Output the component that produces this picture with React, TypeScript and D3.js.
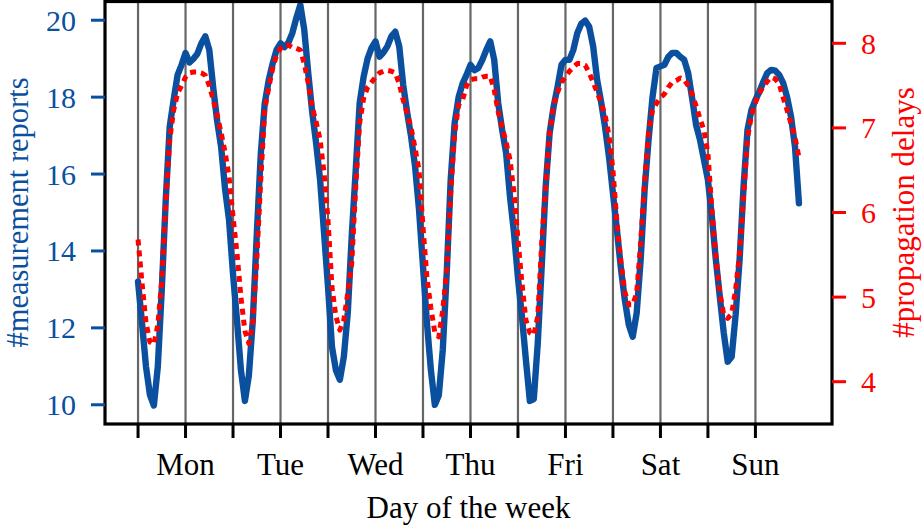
import React from "react";
import * as d3 from "d3";

// hourly values, Mon 00:00 .. Sun 23:00
const reportsMon = [13.2, 12.13, 11.0, 10.26, 9.98, 11.0, 13.0, 15.33, 17.23, 17.93, 18.58, 18.84, 19.15, 18.9, 19.0, 19.13, 19.4, 19.58, 19.23, 18.24, 17.37, 16.7, 15.6, 14.8];
const reportsTue = [13.4, 12.2, 10.9, 10.1, 10.76, 12.2, 14.42, 16.5, 17.83, 18.43, 18.87, 19.23, 19.4, 19.3, 19.42, 19.67, 20.06, 20.4, 19.75, 18.63, 17.62, 16.8, 15.85, 14.47];
const reportsWed = [13.07, 11.51, 10.9, 10.65, 11.25, 12.4, 14.4, 16.1, 17.85, 18.53, 19.0, 19.28, 19.45, 19.05, 19.16, 19.32, 19.58, 19.7, 19.32, 18.32, 17.6, 16.97, 16.2, 15.07];
const reportsThu = [13.6, 12.13, 10.9, 10.0, 10.25, 11.43, 13.43, 15.85, 17.33, 18.0, 18.35, 18.58, 18.84, 18.7, 18.76, 18.97, 19.23, 19.45, 18.97, 17.85, 17.15, 16.55, 15.4, 14.47];
const reportsFri = [13.3, 12.3, 11.17, 10.1, 10.15, 11.6, 13.6, 15.67, 17.06, 17.75, 18.27, 18.84, 18.97, 18.97, 19.23, 19.67, 19.91, 19.99, 19.83, 19.32, 18.45, 17.88, 17.23, 16.45];
const reportsSat = [15.5, 14.55, 13.56, 12.73, 12.08, 11.77, 12.39, 13.77, 15.59, 16.89, 18.0, 18.76, 18.8, 18.84, 19.05, 19.15, 19.15, 19.05, 18.97, 18.63, 17.98, 17.28, 16.89, 16.37];
const reportsSun = [15.85, 14.89, 13.77, 12.81, 11.87, 11.12, 11.25, 12.34, 13.77, 15.67, 17.15, 17.67, 17.93, 18.14, 18.4, 18.63, 18.71, 18.69, 18.58, 18.37, 18.0, 17.49, 16.71, 15.24];

const delaysMon = [5.68, 5.17, 4.7, 4.47, 4.44, 4.67, 5.2, 6.11, 6.86, 7.21, 7.41, 7.5, 7.6, 7.65, 7.66, 7.66, 7.65, 7.62, 7.5, 7.33, 7.15, 6.94, 6.71, 6.42];
const delaysTue = [5.95, 5.52, 5.0, 4.6, 4.45, 4.7, 5.44, 6.38, 7.21, 7.47, 7.7, 7.86, 7.94, 7.98, 7.98, 7.95, 7.94, 7.92, 7.76, 7.53, 7.25, 7.07, 6.86, 6.47];
const delaysWed = [5.91, 5.12, 4.77, 4.61, 4.73, 5.05, 5.4, 6.3, 7.06, 7.35, 7.48, 7.54, 7.6, 7.65, 7.67, 7.68, 7.67, 7.65, 7.52, 7.33, 7.17, 7.0, 6.76, 6.5];
const delaysThu = [5.83, 5.23, 4.87, 4.58, 4.53, 4.85, 5.32, 6.23, 6.94, 7.27, 7.33, 7.5, 7.57, 7.58, 7.58, 7.6, 7.61, 7.61, 7.45, 7.19, 7.01, 6.83, 6.62, 6.23];
const delaysFri = [5.68, 5.17, 4.73, 4.58, 4.55, 4.77, 5.64, 6.3, 6.94, 7.27, 7.42, 7.54, 7.6, 7.67, 7.72, 7.76, 7.76, 7.74, 7.65, 7.54, 7.42, 7.3, 7.15, 6.91];
const delaysSat = [6.5, 5.89, 5.42, 5.06, 4.91, 4.91, 5.05, 5.64, 6.35, 6.94, 7.21, 7.29, 7.36, 7.4, 7.48, 7.54, 7.56, 7.59, 7.57, 7.5, 7.4, 7.26, 7.11, 6.97];
const delaysSun = [6.7, 6.03, 5.48, 5.05, 4.79, 4.75, 4.8, 5.09, 5.52, 6.18, 6.88, 7.15, 7.3, 7.41, 7.49, 7.55, 7.6, 7.58, 7.52, 7.36, 7.21, 7.05, 6.89, 6.65];

const dayLabels = ["Mon", "Tue", "Wed", "Thu", "Fri", "Sat", "Sun"];
const leftTicks = [10, 12, 14, 16, 18, 20];
const rightTicks = [4, 5, 6, 7, 8];

const reports = [reportsMon, reportsTue, reportsWed, reportsThu, reportsFri, reportsSat, reportsSun].flat();
const delays = [delaysMon, delaysTue, delaysWed, delaysThu, delaysFri, delaysSat, delaysSun].flat();

const W = 922;
const H = 527;
const L = 105, R = 832, T = 1, B = 424;
const BLUE = "#0a509e";
const RED = "#ff0000";
const FONT = "'Liberation Serif', 'Times New Roman', serif";

export default function App() {
  const n = reports.length;
  const pad = (n - 1) * 0.05;
  const x = d3.scaleLinear().domain([-pad, n - 1 + pad]).range([L, R]);
  const yL = d3.scaleLinear().domain([9.5, 20.5]).range([B, T]);
  const yR = d3.scaleLinear().domain([3.5, 8.5]).range([B, T]);
  const tickHours = d3.range(0, n - 1, 12);
  const blueLine = d3.line<number>().x((_, i) => x(i)).y((d) => yL(d))(reports) || "";
  const redLine = d3.line<number>().x((_, i) => x(i)).y((d) => yR(d))(delays) || "";

  return (
    <svg width={W} height={H} style={{ position: "absolute", left: 0, top: 0, background: "#fff" }} fontFamily={FONT}>
      <defs>
        <clipPath id="plot">
          <rect x={L} y={T} width={R - L} height={B - T} />
        </clipPath>
      </defs>
      {tickHours.map((h) => (
        <line key={"g" + h} x1={x(h)} x2={x(h)} y1={T} y2={B} stroke="#666" strokeWidth={2.2} />
      ))}
      <g clipPath="url(#plot)">
        <path d={blueLine} fill="none" stroke={BLUE} strokeWidth={6.4} strokeLinejoin="round" strokeLinecap="round" />
        <path d={redLine} fill="none" stroke={RED} strokeWidth={5} strokeDasharray="6 5" strokeLinejoin="round" />
      </g>
      {/* spines */}
      <rect x={L} y={T + 0.5} width={R - L} height={B - T - 0.5} fill="none" stroke="#000" strokeWidth={3.2} />
      {/* x ticks */}
      {tickHours.map((h) => (
        <line key={"xt" + h} x1={x(h)} x2={x(h)} y1={B} y2={B + 14} stroke="#000" strokeWidth={3} />
      ))}
      {dayLabels.map((d, i) => (
        <text key={d} x={x(12 + 24 * i)} y={475} textAnchor="middle" fontSize={31} fill="#000">{d}</text>
      ))}
      <text x={(L + R) / 2} y={518} textAnchor="middle" fontSize={31} fill="#000">Day of the week</text>
      {/* left axis */}
      {leftTicks.map((t) => (
        <g key={"l" + t}>
          <line x1={L - 14} x2={L} y1={yL(t)} y2={yL(t)} stroke={BLUE} strokeWidth={3} />
          <text x={76} y={yL(t) + 10.5} textAnchor="end" fontSize={30} fill={BLUE}>{t}</text>
        </g>
      ))}
      <text transform={`translate(28, ${(T + B) / 2}) rotate(-90)`} textAnchor="middle" fontSize={30.5} fill={BLUE}>#measurement reports</text>
      {/* right axis */}
      {rightTicks.map((t) => (
        <g key={"r" + t}>
          <line x1={R} x2={R + 14} y1={yR(t)} y2={yR(t)} stroke={RED} strokeWidth={3} />
          <text x={861} y={yR(t) + 10.5} textAnchor="start" fontSize={30} fill={RED}>{t}</text>
        </g>
      ))}
      <text transform={`translate(914, ${(T + B) / 2}) rotate(-90)`} textAnchor="middle" fontSize={31} fill={RED}>#propagation delays</text>
    </svg>
  );
}
